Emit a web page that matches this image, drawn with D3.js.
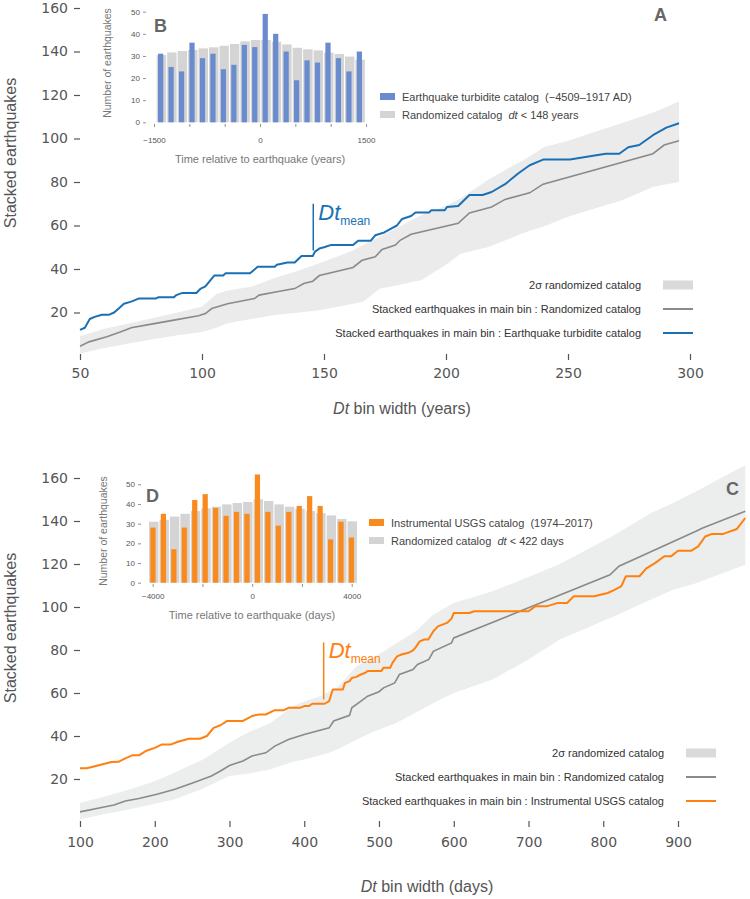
<!DOCTYPE html>
<html lang="en">
<head>
<meta charset="UTF-8">
<title>Stacked earthquakes vs Dt bin width</title>
<script src="https://cdnjs.cloudflare.com/ajax/libs/d3/7.8.5/d3.min.js"></script>
<style>
    body { margin: 0; background: #fff; }
    svg { display: block; font-family: "Liberation Sans", Arial, sans-serif; }
    .main-axis text { font-family: "DejaVu Sans", sans-serif; font-size: 14px; fill: #555; }
    .main-axis line { stroke: #555; stroke-width: 1.2; }
    .inset-axis text { font-size: 8px; fill: #555; }
    .inset-axis line { stroke: #777; stroke-width: 0.8; }
    .domain { display: none; }
</style>
</head>
<body>
<svg id="chart" width="750" height="899"></svg>
<script>
// ---- panel A : earthquake turbidite catalog (years) ----
const turbX = [50, 52, 54, 56, 59, 62, 64, 66, 68, 71, 74, 81, 82, 88.5, 89.5, 92, 97.7, 99.5, 101.4, 105, 108.7, 109.6, 119.7, 122.8, 129.8, 130.7, 135, 138, 140.8, 145.4, 146.3, 148.1, 150, 152.7, 161.9, 164, 169.2, 171, 174.7, 177.5, 179.9, 182, 185.7, 187.5, 193, 194, 199.5, 200.4, 205, 209.6, 215, 218.7, 224.2, 229.7, 234.3, 239.8, 250.8, 259, 265.5, 271, 274.7, 279.2, 284.8, 290.3, 295.5];
const turbY = [12, 13, 17, 18, 19, 19, 20, 22, 24, 25, 26.4, 26.4, 27, 27, 28, 29, 29, 31, 32, 37, 37, 38, 38, 41, 41, 42, 43, 43, 46, 46, 48, 49.4, 50, 51, 51, 53, 53, 55.5, 56.8, 58.6, 60, 63, 64.4, 66, 66, 67, 67, 68.5, 69, 74, 74, 75.4, 79, 84, 87.7, 90.3, 90.3, 91.8, 93, 93, 96, 97, 101.5, 105, 107];
const randAX = [50, 53.7, 61, 66.5, 71, 81, 88.5, 98.6, 101.4, 104, 110.5, 121.5, 123.4, 130.7, 138, 141.7, 145.4, 148.1, 161.9, 165.6, 171, 173.8, 179.3, 181.2, 185.7, 205, 209.6, 218.7, 224.2, 234.3, 239.8, 284.8, 289.4, 295.5];
const randAY = [4.5, 6.5, 8.8, 11, 13, 15, 16.5, 18.5, 19.5, 21.8, 24, 26.4, 28, 29.5, 31, 33.3, 34.4, 37, 40.7, 44, 45.6, 49, 51, 53.2, 56, 61, 65.8, 68.5, 72, 75, 79, 93, 97, 99];
const bandAX = [50, 60, 70, 80, 90, 100, 106, 110, 120, 130, 140, 148, 155, 162, 166, 173, 180, 190, 200, 206, 217, 225, 234, 240, 250, 263, 272, 285, 295.5];
const bandAHigh = [9.1, 12.5, 15, 17.5, 20, 22.8, 28.5, 30, 31.8, 36, 39.4, 42.6, 45.5, 48.6, 51, 55, 59, 64.8, 69, 72.5, 80.8, 86, 91.5, 96, 99, 103.8, 107, 112, 117];
const bandALow = [1.2, 3.7, 5.8, 7.7, 9.5, 11, 13, 15, 17, 18.8, 20, 21, 22.5, 24, 25, 31, 32.5, 35, 42, 47, 50, 53.5, 57.5, 59.5, 64, 68.5, 71.5, 77.8, 80];
const dtMeanA = 145.6;
const xTicksA = [50, 100, 150, 200, 250, 300];

// ---- inset B : histogram (years) ----
const binsB = d3.range(20).map(k => (k - 9.5) * 148);
const turbCounts = [31, 25, 23, 36, 29, 31, 24, 26, 35, 34, 49, 40, 32, 19, 28, 27, 36, 29, 23, 32];
const randCountsB = [30.4, 31.6, 32.2, 32.7, 33.4, 33.9, 34.6, 35.4, 36.6, 37.2, 37.2, 36.4, 35.2, 33.7, 33, 32.5, 31.5, 30.9, 29.7, 28.3];
const xTicksB = [-1500, -1000, -500, 0, 500, 1000, 1500];

// ---- panel C : instrumental USGS catalog (days) ----
const usgsX = [100, 109, 124, 142, 151.5, 160.6, 169.7, 178.8, 187.9, 200, 209, 221, 230, 245.5, 260.6, 269.7, 278.8, 287.9, 297, 318, 330, 339.4, 348.5, 360.6, 372.7, 378.8, 394, 400, 406, 410.9, 427.3, 433.3, 438.2, 451.5, 454.5, 460.6, 463.6, 469.7, 475.8, 481.8, 484.8, 503, 506, 515, 518, 524, 530, 539.4, 545.5, 548.5, 554.5, 560.6, 566, 572.7, 578.8, 590.9, 597, 600, 621, 627.3, 700, 709, 724, 739.4, 751.5, 760.6, 787.9, 806, 815, 824, 830.3, 848.5, 857.6, 869.7, 881.8, 890.9, 900, 918, 927, 936.4, 945.5, 960.6, 978.8, 990];
const usgsY = [25, 25, 26.3, 27.9, 28, 29.6, 31, 31, 33, 34.5, 36, 36, 37.2, 38.7, 38.7, 40, 43.8, 45, 47, 47, 49.3, 50, 50, 52, 52, 53.1, 53.1, 53.9, 53.9, 55, 55, 56.2, 61.6, 61.6, 64.7, 65.5, 67, 67.5, 68.6, 69.4, 70.2, 70.2, 71.7, 71.7, 74, 77, 77.9, 78.7, 79.8, 81, 84, 84.9, 84.9, 88.7, 91, 92.6, 94.6, 97.2, 97.2, 98, 98, 100.3, 100.3, 101.9, 101.9, 105, 105, 106.5, 108, 109.6, 114.3, 114.3, 118, 120.5, 123.6, 123.6, 126.2, 126.2, 128.2, 132.8, 134, 134, 136.3, 141.4];
const randCX = [100, 124, 145.5, 160.6, 178.8, 203, 227, 251.5, 275.8, 287.9, 300, 318, 330, 348.5, 360.6, 378.8, 400, 433.3, 439.4, 460.6, 463.6, 475.8, 484.8, 500, 506, 521, 527.3, 545.5, 551.5, 566.7, 572.7, 597, 600, 700, 809, 821, 924, 933, 990];
const randCY = [4.7, 6.4, 7.9, 9.8, 10.9, 12.9, 15.2, 18.3, 21.4, 23.7, 26.3, 28.4, 30.7, 32.2, 35.3, 38.4, 40.7, 43.8, 47, 49.6, 53.1, 56.2, 58.5, 60.6, 62.4, 64.7, 68.6, 70.9, 73.3, 75.6, 79.4, 83.3, 85.6, 99.6, 115, 119, 135.2, 136.7, 144.5];
const bandCX = [100, 130, 167, 200, 227, 264, 300, 324, 355, 385, 400, 421, 433, 446, 470, 500, 524, 550, 573, 600, 652, 700, 742, 803, 815, 864, 894, 924, 990];
const bandCHigh = [9, 11.5, 15.2, 19, 23, 29, 36.9, 41.5, 46, 54, 56, 58.5, 60.5, 63.2, 72.5, 78, 83.3, 89, 96.5, 101.9, 107.3, 114, 120, 131.3, 133.5, 143.7, 148.5, 153.7, 166];
const bandCLow = [1.3, 3.5, 5.9, 8.5, 10.6, 15.5, 21.4, 22.5, 24.5, 28, 29.1, 31, 32.2, 34, 38.4, 43, 46.2, 51, 55.4, 60, 66.3, 75.6, 84.9, 94, 95.7, 103.5, 108, 111, 119.7];
const dtMeanC = 426;
const xTicksC = [100, 200, 300, 400, 500, 600, 700, 800, 900];

// ---- inset D : histogram (days) ----
const binsD = d3.range(20).map(k => (k - 9.5) * 420);
const usgsCounts = [28, 35, 17, 28, 42, 45, 38, 34, 36, 35, 55, 36, 29, 36, 39, 44, 39, 22, 31, 23];
const randCountsD = [31, 32, 33.6, 35, 36.4, 37.8, 38.6, 39.8, 40.5, 41, 42.4, 41.5, 39.8, 38.6, 37.6, 36.4, 35.4, 34.2, 32.4, 31.2];
const xTicksD = [-4000, -2000, 0, 2000, 4000];

const yTicksMain = [20, 40, 60, 80, 100, 120, 140, 160];
const yTicksInset = [0, 10, 20, 30, 40, 50];

const GRAY_LINE = "#8a8a8a";
const NB = "\u00a0";
const svg = d3.select("#chart");

function zip(xs, ys) { return xs.map((x, i) => [x, ys[i]]); }

function drawMain(o) {
    const g = svg.append("g");
    const x = d3.scaleLinear().domain(o.xDomain).range(o.xRange);
    const y = d3.scaleLinear().domain([0, 160]).range(o.yRange);

    const band = o.bandX.map((v, i) => ({ x: v, lo: o.bandLow[i], hi: o.bandHigh[i] }));
    g.append("path")
        .datum(band)
        .attr("fill", o.bandColor)
        .attr("d", d3.area().x(d => x(d.x)).y0(d => y(d.lo)).y1(d => y(d.hi)));

    const line = d3.line().x(d => x(d[0])).y(d => y(d[1]));
    g.append("path").datum(zip(o.randX, o.randY))
        .attr("fill", "none").attr("stroke", GRAY_LINE).attr("stroke-width", 1.6)
        .attr("d", line);
    g.append("path").datum(zip(o.obsX, o.obsY))
        .attr("fill", "none").attr("stroke", o.color).attr("stroke-width", 2)
        .attr("stroke-linejoin", "round")
        .attr("d", line);

    // Dt mean marker
    g.append("line")
        .attr("x1", x(o.dtMean)).attr("x2", x(o.dtMean))
        .attr("y1", y(o.dtMeanSpan[0])).attr("y2", y(o.dtMeanSpan[1]))
        .attr("stroke", o.color).attr("stroke-width", 1.5);
    const t = g.append("text")
        .attr("x", x(o.dtMean) + 5).attr("y", y(o.dtMeanSpan[1]) + 16)
        .attr("fill", o.color).attr("font-size", 22);
    t.append("tspan").attr("font-style", "italic").text("Dt");
    t.append("tspan").attr("font-size", 12).attr("dy", 5).text("mean");

    g.append("g").attr("class", "main-axis")
        .attr("transform", `translate(${o.xRange[0]},0)`)
        .call(d3.axisLeft(y).tickValues(yTicksMain).tickSize(6).tickPadding(6));
    g.append("g").attr("class", "main-axis")
        .attr("transform", `translate(0,${o.xAxisY})`)
        .call(d3.axisBottom(x).tickValues(o.xTicks).tickSize(6).tickPadding(o.xPad));

    g.append("text")
        .attr("transform", `translate(16,${o.yTitleY}) rotate(-90)`)
        .attr("text-anchor", "middle").attr("font-size", 16).attr("fill", "#555")
        .text("Stacked earthquakes");
    const xt = g.append("text")
        .attr("x", o.xTitleX).attr("y", o.xTitleY)
        .attr("text-anchor", "middle").attr("font-size", 16).attr("fill", "#555");
    xt.append("tspan").attr("font-style", "italic").text("Dt");
    xt.append("tspan").text(o.xTitle);

    g.append("text").attr("x", o.letterPos[0]).attr("y", o.letterPos[1])
        .attr("font-size", 18).attr("font-weight", "bold").attr("fill", "#666")
        .text(o.letter);

    // legend
    const items = [
        { label: "2\u03c3 randomized catalog", type: "band" },
        { label: "Stacked earthquakes in main bin :" + NB + "Randomized catalog", type: "gray" },
        { label: "Stacked earthquakes in main bin :" + NB + o.obsName, type: "obs" }
    ];
    items.forEach((d, i) => {
        const yy = o.legendY + i * 24;
        g.append("text").attr("x", o.legendX).attr("y", yy + 4)
            .attr("text-anchor", "end").attr("font-size", 11).attr("fill", "#333")
            .text(d.label);
        if (d.type === "band") {
            g.append("rect").attr("x", o.legendX + 22).attr("y", yy - 4.5)
                .attr("width", 30).attr("height", 9).attr("fill", "#dadada");
        } else {
            g.append("line").attr("x1", o.legendX + 22).attr("x2", o.legendX + 52)
                .attr("y1", yy).attr("y2", yy)
                .attr("stroke", d.type === "gray" ? GRAY_LINE : o.color)
                .attr("stroke-width", 2);
        }
    });
}

function drawInset(o) {
    const g = svg.append("g");
    const x = d3.scaleLinear().domain(o.xDomain).range(o.xRange);
    const y = d3.scaleLinear().domain([0, 50]).range(o.yRange);
    const step = x(o.bins[1]) - x(o.bins[0]);

    g.selectAll(".rbar").data(o.randCounts).join("rect")
        .attr("x", (d, i) => x(o.bins[i]) - step * 0.45 + 0.8)
        .attr("width", step * 0.9)
        .attr("y", d => y(d)).attr("height", d => y(0) - y(d))
        .attr("fill", "#d4d4d4");
    g.selectAll(".obar").data(o.obsCounts).join("rect")
        .attr("x", (d, i) => x(o.bins[i]) - step * 0.25)
        .attr("width", step * 0.5)
        .attr("y", d => y(d)).attr("height", d => y(0) - y(d))
        .attr("fill", o.barColor);

    g.append("g").attr("class", "inset-axis")
        .attr("transform", `translate(${o.yAxisX},0)`)
        .call(d3.axisLeft(y).tickValues(yTicksInset).tickSize(3).tickPadding(3));
    g.append("g").attr("class", "inset-axis")
        .attr("transform", `translate(0,${o.xAxisY})`)
        .call(d3.axisBottom(x).tickValues(o.xTicks).tickSize(3).tickPadding(o.xPad)
            .tickFormat(v => o.labelled.includes(v) ? (v < 0 ? "\u2212" + (-v) : v) : ""));

    g.append("text")
        .attr("transform", `translate(${o.yTitleX},${o.yTitleY}) rotate(-90)`)
        .attr("text-anchor", "middle").attr("font-size", 10.5).attr("fill", "#777")
        .text("Number of earthquakes");
    g.append("text").attr("x", o.xTitleX).attr("y", o.xTitleY)
        .attr("text-anchor", "middle").attr("font-size", 11).attr("fill", "#777")
        .text(o.xTitle);

    g.append("text").attr("x", o.letterPos[0]).attr("y", o.letterPos[1])
        .attr("font-size", 18).attr("font-weight", "bold").attr("fill", "#666")
        .text(o.letter);

    // inset legend
    g.append("rect").attr("x", o.legendX).attr("y", o.legendY - 4)
        .attr("width", 15).attr("height", 7).attr("fill", o.barColor);
    g.append("text").attr("x", o.legendX + 22).attr("y", o.legendY + 4)
        .attr("font-size", 11).attr("fill", "#444").text(o.obsLabel);
    g.append("rect").attr("x", o.legendX).attr("y", o.legendY + 14)
        .attr("width", 15).attr("height", 7).attr("fill", "#d4d4d4");
    const rt = g.append("text").attr("x", o.legendX + 22).attr("y", o.legendY + 22)
        .attr("font-size", 11).attr("fill", "#444");
    rt.append("tspan").text("Randomized catalog" + NB + NB);
    rt.append("tspan").attr("font-style", "italic").text("dt");
    rt.append("tspan").text(o.randSuffix);
}

drawMain({
    xDomain: [50, 300], xRange: [80, 690], yRange: [356, 8],
    bandX: bandAX, bandLow: bandALow, bandHigh: bandAHigh, bandColor: "#ebebeb",
    randX: randAX, randY: randAY, obsX: turbX, obsY: turbY,
    color: "#1a70b5", dtMean: dtMeanA, dtMeanSpan: [48.5, 70],
    xTicks: xTicksA, xAxisY: 354, xPad: 8,
    yTitleY: 153, xTitleX: 402, xTitleY: 414, xTitle: " bin width (years)",
    letter: "A", letterPos: [654, 21],
    legendX: 641, legendY: 285, obsName: "Earthquake turbidite catalog"
});

drawInset({
    xDomain: [-1500, 1500], xRange: [154, 366], yRange: [122.3, 11.7],
    bins: binsB, obsCounts: turbCounts, randCounts: randCountsB, barColor: "#6a8bcd",
    xTicks: xTicksB, labelled: [-1500, 0, 1500], xAxisY: 124, xPad: 10, yAxisX: 146,
    yTitleX: 111, yTitleY: 63, xTitleX: 260, xTitleY: 163,
    xTitle: "Time relative to earthquake (years)",
    letter: "B", letterPos: [154, 32],
    legendX: 380, legendY: 97,
    obsLabel: "Earthquake turbidite catalog" + NB + NB + "(\u22124509\u20131917 AD)",
    randSuffix: " < 148 years"
});

drawMain({
    xDomain: [100, 900], xRange: [80, 678], yRange: [822, 478],
    bandX: bandCX, bandLow: bandCLow, bandHigh: bandCHigh, bandColor: "#eceded",
    randX: randCX, randY: randCY, obsX: usgsX, obsY: usgsY,
    color: "#ff800e", dtMean: dtMeanC, dtMeanSpan: [57, 83.5],
    xTicks: xTicksC, xAxisY: 821, xPad: 10,
    yTitleY: 628, xTitleX: 427, xTitleY: 892, xTitle: " bin width (days)",
    letter: "C", letterPos: [726, 495],
    legendX: 664, legendY: 753, obsName: "Instrumental USGS catalog"
});

drawInset({
    xDomain: [-4000, 4000], xRange: [152.7, 351.7], yRange: [582.7, 484.3],
    bins: binsD, obsCounts: usgsCounts, randCounts: randCountsD, barColor: "#f98a1e",
    xTicks: xTicksD, labelled: [-4000, 0, 4000], xAxisY: 584, xPad: 6, yAxisX: 141,
    yTitleX: 107, yTitleY: 531, xTitleX: 252, xTitleY: 619,
    xTitle: "Time relative to earthquake (days)",
    letter: "D", letterPos: [146, 502],
    legendX: 369, legendY: 523,
    obsLabel: "Instrumental USGS catalog" + NB + NB + "(1974\u20132017)",
    randSuffix: " < 422 days"
});
</script>
</body>
</html>
